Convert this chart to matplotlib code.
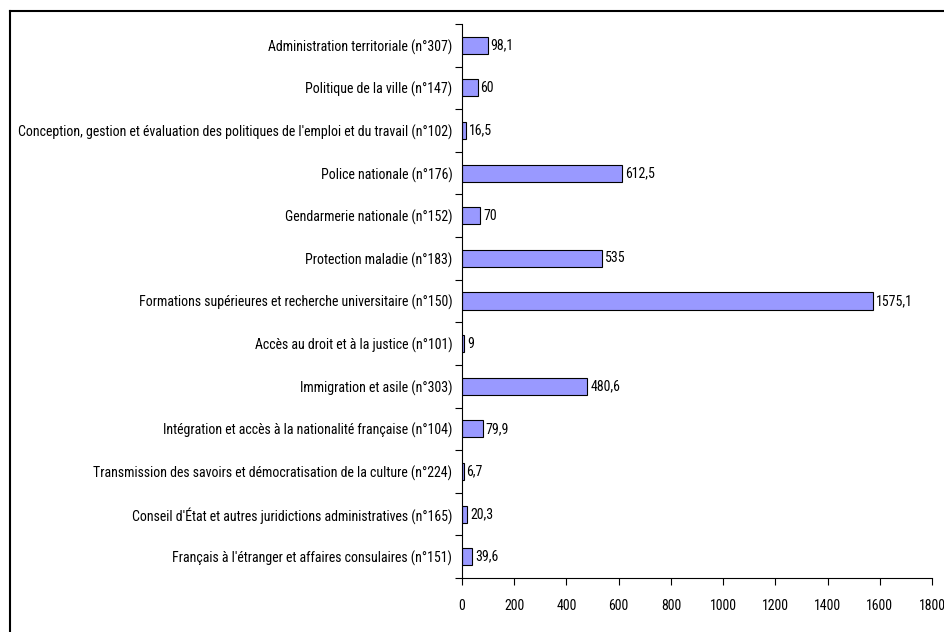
import matplotlib
matplotlib.use('Agg')
from matplotlib import pyplot as plt
from matplotlib import font_manager
from matplotlib.lines import Line2D
import numpy as np

# Programmes, top to bottom as shown in the chart
labels = [
    "Administration territoriale (n°307)",
    "Politique de la ville (n°147)",
    "Conception, gestion et évaluation des politiques de l'emploi et du travail (n°102)",
    "Police nationale (n°176)",
    "Gendarmerie nationale (n°152)",
    "Protection maladie (n°183)",
    "Formations supérieures et recherche universitaire (n°150)",
    "Accès au droit et à la justice (n°101)",
    "Immigration et asile (n°303)",
    "Intégration et accès à la nationalité française (n°104)",
    "Transmission des savoirs et démocratisation de la culture (n°224)",
    "Conseil d'État et autres juridictions administratives (n°165)",
    "Français à l'étranger et affaires consulaires (n°151)",
]
values = [98.1, 60, 16.5, 612.5, 70, 535, 1575.1, 9, 480.6, 79.9, 6.7, 20.3, 39.6]
xticks = [0, 200, 400, 600, 800, 1000, 1200, 1400, 1600, 1800]

# the original uses Arial Narrow; take the closest narrow face available
installed = {f.name for f in font_manager.fontManager.ttflist}
narrow = 'Liberation Sans'
for cand in ['Liberation Sans Narrow', 'Arial Narrow', 'Roboto Condensed', 'PT Sans Narrow',
             'Archivo Narrow', 'Open Sans Condensed']:
    if cand in installed:
        narrow = cand
        break
plt.rcParams['font.family'] = [narrow, 'DejaVu Sans']
fs = 10

fig = plt.figure(figsize=(9.45, 6.32), dpi=100)
ax = fig.add_axes([462 / 945, 1 - 578 / 632, (932 - 462) / 945, (578 - 24) / 632])

n = len(labels)
pos = np.arange(n)[::-1]
ax.barh(pos, values, height=0.4, color='#9999FF', edgecolor='black', linewidth=0.8)

for p, v in zip(pos, values):
    txt = f"{v:g}".replace('.', ',')
    ax.annotate(txt, (v, p), xytext=(2, 0), textcoords='offset points',
                va='center', ha='left', fontsize=fs)

ax.set_xlim(0, 1800)
ax.set_ylim(-0.5, n - 0.5)
ax.set_xticks(xticks)
ax.set_xticklabels([str(t) for t in xticks], fontsize=fs)
ax.set_yticks(pos)
ax.set_yticklabels(labels, fontsize=fs)
ax.set_yticks(np.arange(n + 1) - 0.5, minor=True)
ax.tick_params(axis='y', which='major', length=0, pad=7)
ax.tick_params(axis='y', which='minor', length=5, width=0.8, direction='out')
ax.tick_params(axis='x', length=5, width=0.8, direction='out', pad=10)

for s in ['top', 'right']:
    ax.spines[s].set_visible(False)
for s in ['left', 'bottom']:
    ax.spines[s].set_linewidth(0.8)

# outer chart frame (only top and left edges fall inside the image)
fig.add_artist(Line2D([10 / 945, 10 / 945], [0, 1 - 11 / 632], color='black', lw=1.5, transform=fig.transFigure))
fig.add_artist(Line2D([10 / 945, 1], [1 - 11 / 632, 1 - 11 / 632], color='black', lw=1.5, transform=fig.transFigure))

fig.savefig('out.png', dpi=100)
